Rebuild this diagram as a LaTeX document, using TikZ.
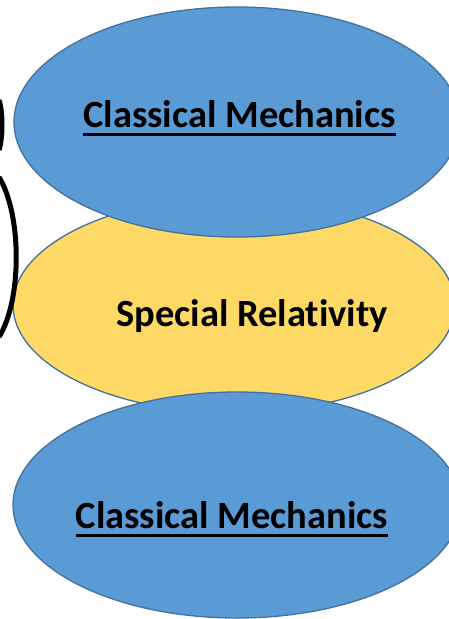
\documentclass[tikz,border=0pt]{standalone}
\usepackage{fontspec}
\setmainfont[RawFeature=-liga]{Carlito}
\usetikzlibrary{shapes.geometric}
\definecolor{cmblue}{HTML}{5B9BD5}
\definecolor{cmedge}{HTML}{41719C}
\definecolor{sryellow}{HTML}{FFD966}
\newcommand\myul[1]{\setbox0\hbox{#1}\rlap{\rule[-8.5pt]{\wd0}{2.6pt}}\box0}
\tikzset{
  blob/.style={ellipse, draw=cmedge, line width=1.3pt, inner sep=0pt},
  lbl/.style={anchor=base, font=\fontsize{38.5}{46}\selectfont\bfseries, inner sep=0pt},
  arcline/.style={line width=5pt, black}
}
\begin{document}
\begin{tikzpicture}[x=1pt,y=-1pt]
\useasboundingbox (0,0) rectangle (448,619);
\node[blob, fill=sryellow, minimum width=442pt, minimum height=216pt] (sr) at (234,305) {};
\node[blob, fill=cmblue, minimum width=446pt, minimum height=230pt] (cm1) at (237,122) {};
\node[blob, fill=cmblue, minimum width=448pt, minimum height=226pt] (cm2) at (237,505) {};
\node[lbl] (t1) at (239.5,127) {\myul{Classical Mechanics}};
\node[lbl] (t2) at (252,326) {Special Relativity};
\node[lbl] (t3) at (232,528) {\myul{Classical Mechanics}};
\coordinate (a1) at (-1,100);
\coordinate (a2) at (-1,150);
\draw[arcline] (a1) .. controls (3,112) and (3,138) .. (a2);
\coordinate (b1) at (-1,177);
\coordinate (b2) at (-1,337);
\draw[arcline] (b1) .. controls (22,215) and (22,300) .. (b2);
\end{tikzpicture}
\end{document}
